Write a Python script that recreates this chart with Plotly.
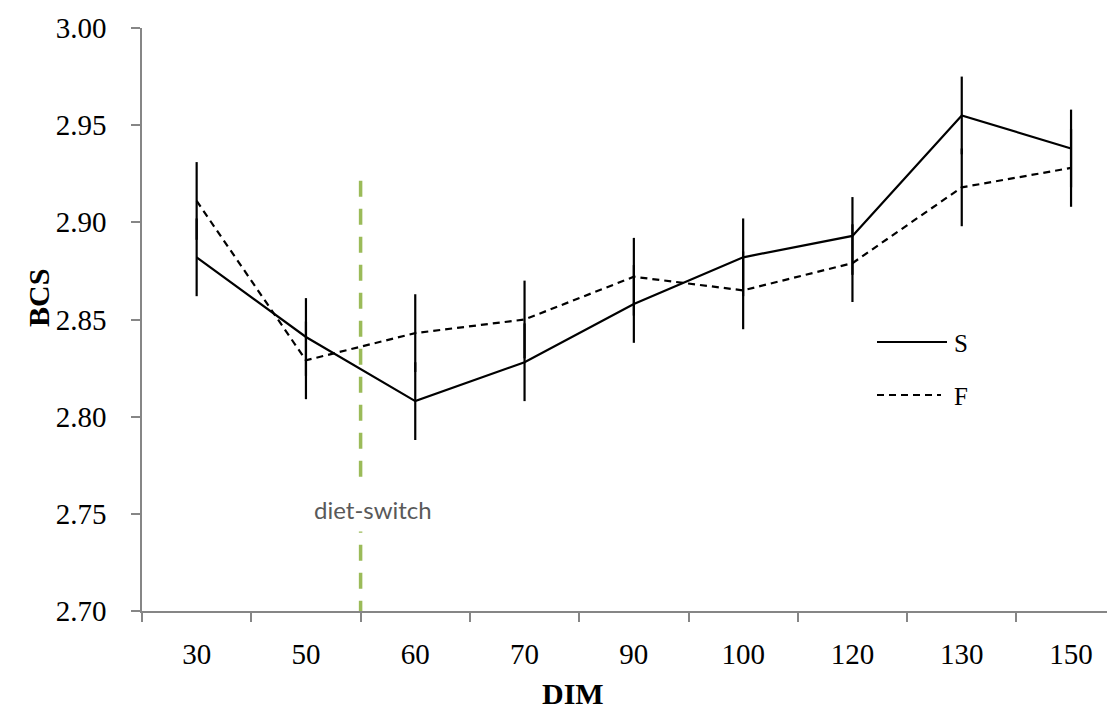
import plotly.graph_objects as go

# ---- data ----
dim_labels = ["30", "50", "60", "70", "90", "100", "120", "130", "150"]
s_values = [2.882, 2.841, 2.808, 2.828, 2.858, 2.882, 2.893, 2.955, 2.938]
f_values = [2.911, 2.829, 2.843, 2.850, 2.872, 2.865, 2.879, 2.918, 2.928]
s_err = [0.020, 0.020, 0.020, 0.020, 0.020, 0.020, 0.020, 0.020, 0.020]
f_err = [0.020, 0.020, 0.020, 0.020, 0.020, 0.020, 0.020, 0.020, 0.020]
y_ticks = [2.70, 2.75, 2.80, 2.85, 2.90, 2.95, 3.00]
switch_after = "50"      # diet switch occurs between DIM 50 and 60
switch_top = 2.922
switch_label = "diet-switch"

SERIF = "Liberation Serif, Times New Roman, serif"
AXIS_GREY = "#868686"

# page body has an 8px margin; lay out in screen pixels
OFF = 8
W, H = 1115 - OFF, 713 - OFF
PL, PT, PR, PB = 142, 28, 1115, 611     # plot area in screen px
L, T = PL - OFF, PT - OFF
R = (OFF + W) - PR
B = (OFF + H) - PB
pw, ph = W - L - R, H - T - B


def px_x(px):
    return (px - PL) / pw


def px_y(py):
    return (PB - py) / ph


fig = go.Figure()

fig.add_trace(go.Scatter(
    x=dim_labels, y=s_values, name="S", mode="lines",
    line=dict(color="black", width=2.2),
    error_y=dict(type="data", array=s_err, visible=True, color="black",
                 thickness=2.2, width=0),
    showlegend=False,
))
fig.add_trace(go.Scatter(
    x=dim_labels, y=f_values, name="F", mode="lines",
    line=dict(color="black", width=2.2, dash="7px,5px"),
    error_y=dict(type="data", array=f_err, visible=True, color="black",
                 thickness=2.2, width=0),
    showlegend=False,
))

switch_x = dim_labels.index(switch_after) + 0.5
fig.add_shape(type="line", xref="x", yref="y",
              x0=switch_x, x1=switch_x, y0=y_ticks[0] - 0.003, y1=switch_top,
              line=dict(color="#9BBB59", width=3.5, dash="16px,12px"),
              layer="below")
fig.add_annotation(x=switch_x, y=2.752, xref="x", yref="y", text=switch_label,
                   showarrow=False, xshift=12,
                   font=dict(family="Lato, Open Sans, sans-serif", size=24, color="#595959"),
                   bgcolor="white", borderpad=7)

# manual legend (matches reference styling)
fig.add_shape(type="line", xref="paper", yref="paper",
              x0=px_x(877), x1=px_x(947), y0=px_y(342), y1=px_y(342),
              line=dict(color="black", width=2.2))
fig.add_shape(type="line", xref="paper", yref="paper",
              x0=px_x(877), x1=px_x(941), y0=px_y(395), y1=px_y(395),
              line=dict(color="black", width=2.2, dash="7px,5px"))
fig.add_annotation(xref="paper", yref="paper", x=px_x(952), y=px_y(343),
                   text="S", showarrow=False, xanchor="left", yanchor="middle",
                   font=dict(family=SERIF, size=25, color="black"))
fig.add_annotation(xref="paper", yref="paper", x=px_x(952), y=px_y(396),
                   text="F", showarrow=False, xanchor="left", yanchor="middle",
                   font=dict(family=SERIF, size=25, color="black"))

# axis titles
fig.add_annotation(xref="paper", yref="paper", x=px_x(573), y=px_y(711),
                   text="<b>DIM</b>", showarrow=False, xanchor="center", yanchor="bottom",
                   font=dict(family=SERIF, size=30, color="black"), borderpad=0)
fig.add_annotation(xref="paper", yref="paper", x=px_x(38), y=px_y(298),
                   text="<b>BCS</b>", showarrow=False, textangle=-90,
                   xanchor="center", yanchor="middle",
                   font=dict(family=SERIF, size=30, color="black"))

fig.update_layout(
    width=W, height=H,
    margin=dict(l=L, r=R, t=T, b=B, pad=0),
    plot_bgcolor="white", paper_bgcolor="white",
    showlegend=False,
)
fig.update_xaxes(
    type="category", categoryorder="array", categoryarray=dim_labels,
    range=[-0.5, -0.5 + pw / 109.3], showgrid=False, zeroline=False,
    showline=True, linecolor=AXIS_GREY, linewidth=1.5,
    ticks="outside", tickson="boundaries", ticklen=9, tickcolor=AXIS_GREY, tickwidth=1.5,
    tickfont=dict(family=SERIF, size=29, color="black"),
    ticklabelstandoff=16,
)
fig.update_yaxes(
    range=[y_ticks[0], y_ticks[-1]], tickvals=y_ticks,
    ticktext=[f"{v:.2f}" for v in y_ticks],
    showgrid=False, zeroline=False,
    showline=True, linecolor=AXIS_GREY, linewidth=1.5,
    ticks="outside", ticklen=9, tickcolor=AXIS_GREY, tickwidth=1.5,
    tickfont=dict(family=SERIF, size=29, color="black"),
    ticklabelstandoff=19,
)

fig.write_html("out.html")
